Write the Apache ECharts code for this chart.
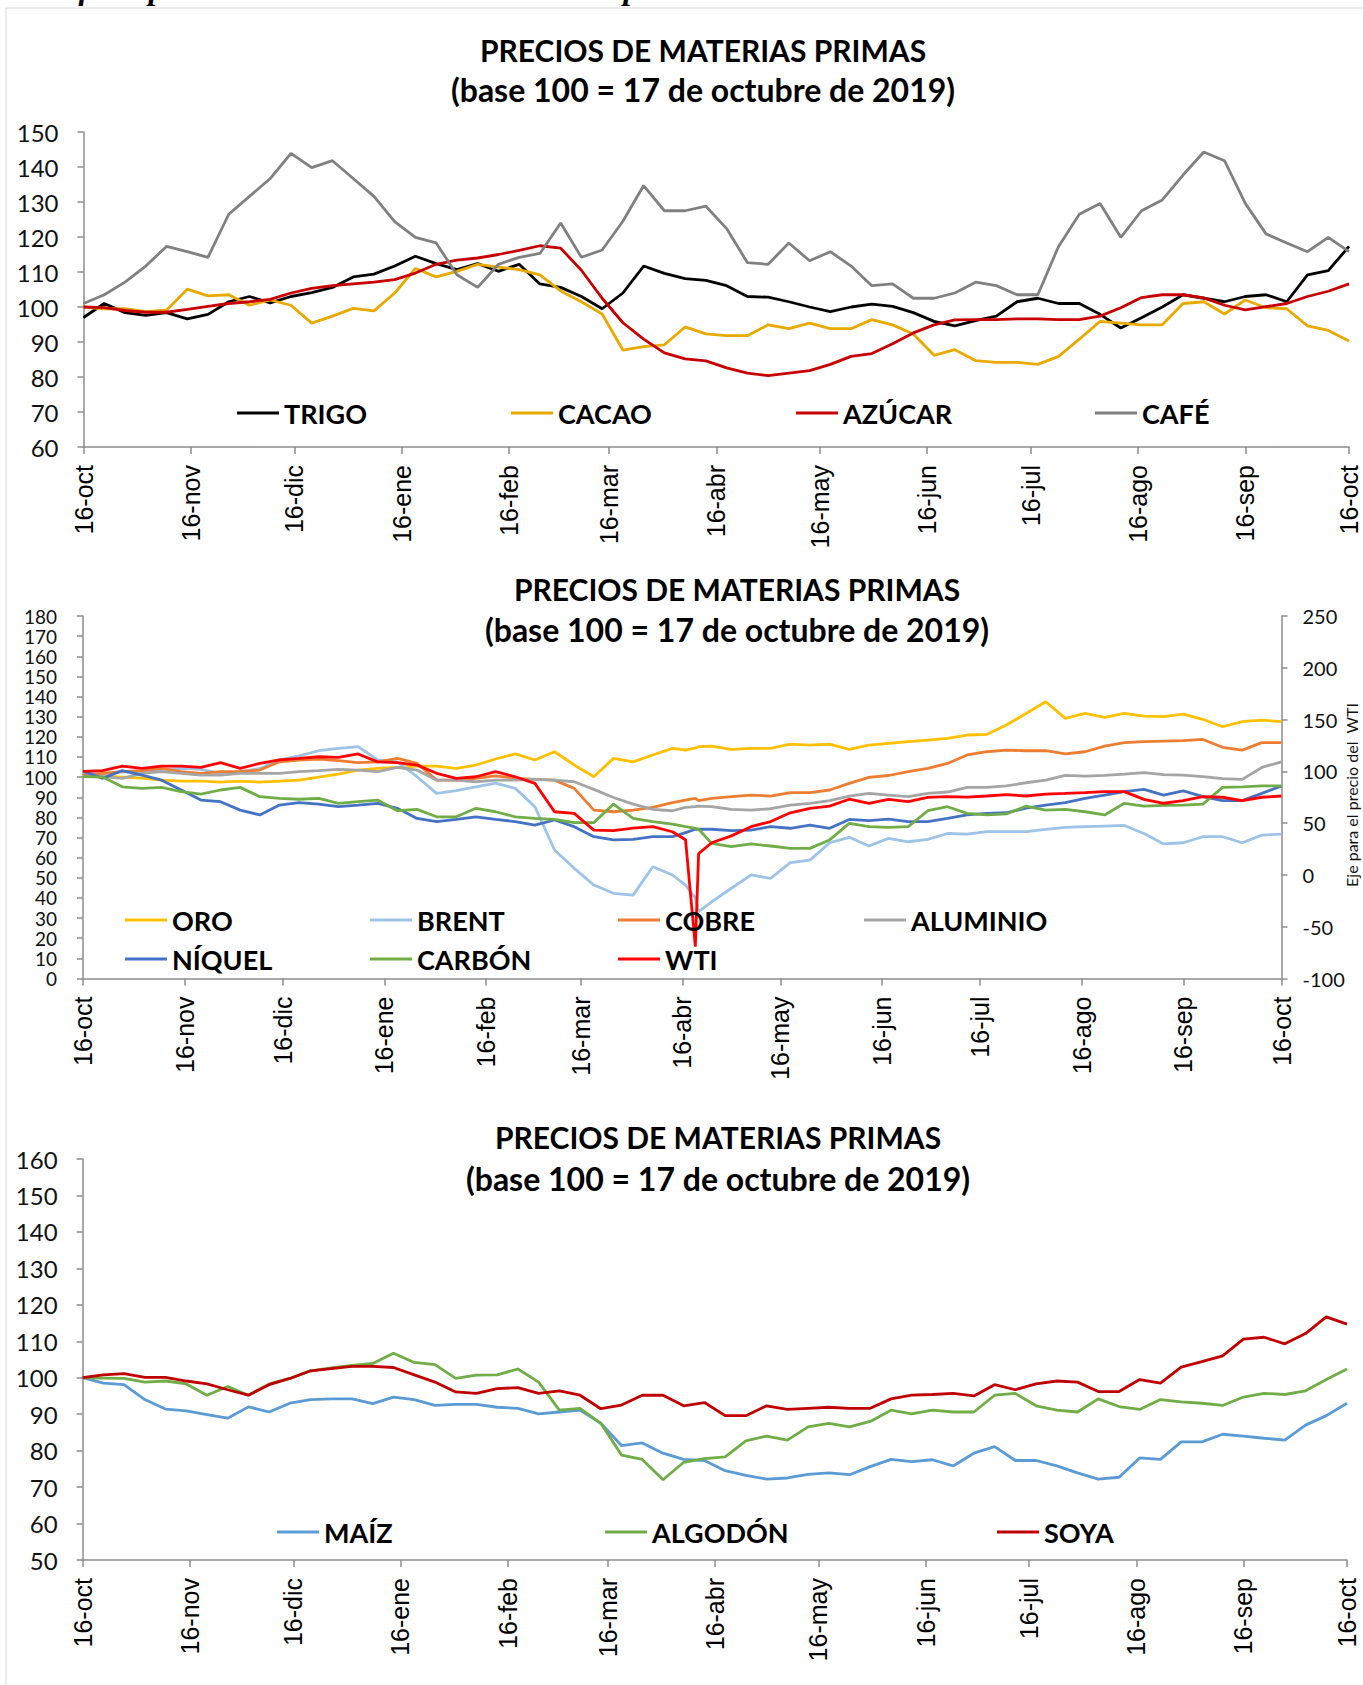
<!DOCTYPE html>
<html><head><meta charset="utf-8">
<script src="https://cdn.jsdelivr.net/npm/echarts@6/dist/echarts.min.js"></script>
<style>html,body{margin:0;padding:0;background:#fff}#c{width:1363px;height:1685px}</style>
</head><body><div id="c"></div>
<script>
// ---- axis ticks (days since 16-oct-2019) ----
const TICK_DAYS = [0,31,61,92,123,152,183,213,244,274,305,336,366];
const TICK_LABELS = ['16-oct','16-nov','16-dic','16-ene','16-feb','16-mar','16-abr','16-may','16-jun','16-jul','16-ago','16-sep','16-oct'];

// ---- sample days (panels 1 and 3) ----
const DAYS_A = [0,6,12,18,24,30,36,42,48,54,60,66,72,78,84,90,96,102,108,114,120,126,132,138,144,150,156,162,168,174,
  180,186,192,198,204,210,216,222,228,234,240,246,252,258,264,270,276,282,288,294,300,306,312,318,324,330,336,342,348,354,360,366];
// ---- sample days (panel 2) ----
const DAYS_B = [0,6,12,18,24,30,36,42,48,54,60,66,72,78,84,90,96,102,108,114,120,126,132,138,144,150,156,162,168,174,180,
  184,187,188,192,198,204,210,216,222,228,234,240,246,252,258,264,270,276,282,288,294,300,306,312,318,324,330,336,342,348,354,360,366];

// ---- panel 1 ----
const TRIGO = [97,101,98.4,97.6,98.4,96.6,97.9,101.5,103,101.2,
  103,104.1,105.6,108.6,109.4,111.7,114.5,112.4,110.7,112.4,
  110.2,112.2,106.6,105.6,103,99.5,104,111.7,109.6,108.1,
  107.6,106.1,103,102.8,101.5,100,98.7,100,100.8,100.2,
  98.4,95.9,94.6,96.1,97.4,101.5,102.5,101,101,97.9,
  94,96.9,100,103.5,102.5,101.5,103,103.5,101.5,109.2,
  110.4,117.3];
const CACAO = [100,99.5,99.5,98.7,99.1,105.1,103.2,103.5,100.5,102,
  100.5,95.4,97.4,99.6,98.9,104,111,108.6,110.2,112.2,
  111.4,110.7,109.2,104.6,101.5,98,87.7,88.7,89.2,94.3,
  92.3,91.8,91.8,94.9,93.8,95.4,93.8,93.8,96.4,94.9,
  92.3,86.2,87.8,84.7,84.2,84.2,83.6,85.9,90.8,95.9,
  95.4,94.9,94.9,101,101.5,98,102,99.8,99.5,94.6,
  93.3,90.3];
const AZUCAR = [100,99.8,99,98.5,98.5,99.3,100.2,101,101.5,102.2,
  104,105.3,106.1,106.6,107.1,107.8,109.7,112.2,113.4,114,
  115,116.2,117.5,116.8,110.5,102.5,95.5,90.8,86.9,85.2,
  84.6,82.6,81.1,80.4,81.1,81.8,83.6,85.9,86.7,89.5,
  92.6,94.9,96.3,96.4,96.4,96.6,96.6,96.4,96.4,97.4,
  99.8,102.7,103.5,103.5,102.6,100.5,99.2,100.1,101,103,
  104.5,106.6];
const CAFE = [101,103.5,107.1,111.7,117.3,115.8,114.2,126.5,131.6,136.7,
  143.9,139.8,141.8,136.7,131.6,124.4,119.9,118.3,109.2,105.6,
  112.2,114.2,115.3,124,114.2,116.3,124.5,134.7,127.5,127.5,
  128.8,122.4,112.7,112.2,118.3,113.2,115.8,111.7,106.1,106.6,
  102.5,102.5,104,107.1,106.1,103.5,103.5,117.3,126.5,129.6,
  119.9,127.5,130.6,137.7,144.3,141.8,129.6,120.9,118.3,115.8,
  119.9,115.8];

// ---- panel 2 (WTI on the right axis) ----
const ORO = [101,100.5,100,99.5,98.5,98,98,97.5,98,97.5,
  98,98.5,100,101.5,103.5,104.3,104.8,105.5,105.5,104.3,
  106,109,111.5,108.5,112.6,106,100.2,109.3,107.6,111,
  114.3,113.4,114.5,115.1,
  115.4,113.8,114.3,114.3,116.4,115.9,116.4,113.8,115.9,116.8,
  117.6,118.4,119.2,120.9,121.2,125.9,131.6,137.4,129.2,131.6,
  129.7,131.6,130.3,130,131.3,128.7,125,127.5,128.3,127.5];
const BRENT = [102,101.5,102.7,102,103.8,104.3,103.8,101.9,102.7,104.3,
  108.5,110.5,113.1,114.3,115.1,108.5,107.6,100.2,91.9,93.3,
  95.2,97,94.4,85.3,63.8,54.7,46.4,42.3,41.4,55.5,
  51.4,46.4,40,33.2,
  38.1,44.8,51.4,49.7,57.5,58.8,67.4,70.1,65.8,69.6,
  67.9,69.1,72,71.7,72.9,72.9,72.9,74.1,75,75.4,
  75.7,76,72,66.8,67.4,70.4,70.4,67.4,71.2,71.7];
const COBRE = [101,101.9,102.7,103.2,104.3,102.7,101.9,102.7,102.7,103.5,
  107.6,108.5,109,108.2,107.2,107.6,109.3,106.8,98.5,98.5,
  99.4,100.6,99.4,98.9,98.5,94.4,83.6,82.8,83.6,85,
  87.3,88.6,89.5,88.3,
  89.4,90.3,91.1,90.6,92.3,92.3,93.6,96.9,99.9,100.8,
  102.7,104.3,106.8,111,112.6,113.4,113.1,113.1,111.5,112.6,
  115.4,117.1,117.6,117.9,118.1,118.7,114.8,113.4,117.1,117.1];
const ALUMINIO = [100.2,100.2,99.4,101.9,102.7,101.9,101,101,101.9,101.9,
  101.9,102.7,103.2,103.8,103.5,102.7,104.8,103.5,98.5,98.5,
  97.7,98.5,98.5,98.9,98.5,97.7,93.9,89.9,86.6,84,
  83.3,85,85.3,85.6,
  85.3,84,83.6,84.3,86.1,87,88.3,90.6,91.9,91.1,
  90.3,91.9,92.6,94.9,94.9,95.6,97.2,98.5,100.9,100.5,
  100.9,101.5,102.2,101.2,101,100.2,99.2,98.9,104.8,107.6];
const NIQUEL = [103,99.4,103.2,101,98.5,93.6,88.6,87.8,83.6,81.2,
  86.1,87.3,86.6,85.3,86.1,87,84.5,79.5,77.9,79,
  80.3,79,77.9,76.2,78.7,75.4,70.4,68.8,69.1,70.4,
  70.4,72.4,74.1,74.1,
  74.1,73.4,73.7,75.4,74.6,76.2,74.6,79,78.4,79.1,
  77.9,77.9,79.5,81.2,82,82.3,84.6,86.1,87.3,89.4,
  91.1,92.8,93.9,91.1,93.2,90.3,88.3,88.3,91.9,95.6];
const CARBON = [100.2,100,95.2,94.4,94.9,92.8,91.6,93.6,94.9,90.3,
  89.4,89,89.4,87,87.8,88.6,83.3,84,80.3,80.3,
  84.5,82.8,80.3,79.5,79,77.4,77.4,86.6,79.5,77.9,
  76.7,75.4,74.5,74.1,
  67.1,65.5,66.8,65.8,64.6,64.6,68.8,77,75.4,75,
  75.4,83.3,85.3,82,81.2,81.7,85.6,83.6,84,82.8,
  81.2,87,85.6,86,86.1,86.6,94.9,95.2,95.6,95.6];
const WTI = [100,100.7,105.1,102.8,105.1,105.1,103.8,108.4,102.8,107.7,
  111,112.5,114.1,113.5,116.8,109.2,108.4,106.1,98.1,93.3,
  94.8,99.7,94.8,88.4,61,59.4,43.3,42.7,45.1,46.6,
  41.7,34,-69.3,20.6,
  31.1,37.7,46.6,51.5,60,64.3,66.4,73.1,69,72.9,
  70.7,74.8,75.6,75.2,76.2,77.5,76.2,78.1,78.7,79.5,
  80.4,80.4,72.9,69.2,71.7,75.6,75,71.7,75,76.2];

// ---- panel 3 ----
const MAIZ = [100,98.5,98.1,94,91.4,90.9,89.9,88.9,92,90.6,
  93,94,94.2,94.2,92.9,94.7,94,92.4,92.7,92.7,
  91.9,91.6,90.1,90.6,91.1,87.5,81.4,82.1,79.3,77.6,
  77.3,74.5,73.2,72.2,72.5,73.5,73.9,73.4,75.6,77.6,
  77,77.5,75.8,79.3,81.1,77.3,77.3,75.8,73.9,72.2,
  72.7,78,77.6,82.4,82.4,84.5,84,83.4,82.9,87,
  89.6,93];
const ALGODON = [100,99.9,99.8,98.8,99.1,98.3,95.2,97.6,95.2,98.3,
  99.8,101.9,102.7,103.4,103.9,106.7,104.2,103.6,99.8,100.7,
  100.8,102.4,98.8,91.1,91.6,87.5,78.8,77.6,72,76.8,
  77.8,78.3,82.7,84,82.9,86.5,87.5,86.5,88,91.1,
  90.1,91.1,90.6,90.6,95.2,95.7,92.3,91.1,90.6,94.2,
  92.1,91.3,94,93.4,93,92.4,94.7,95.7,95.4,96.4,
  99.5,102.4];
const SOYA = [100,100.8,101.1,100.1,100.1,99.1,98.3,96.7,95.2,98.1,
  99.8,101.9,102.5,103.1,103.1,102.8,100.8,98.8,96.1,95.7,
  97,97.3,95.7,96.4,95.2,91.5,92.5,95.2,95.2,92.3,
  93.2,89.6,89.6,92.3,91.3,91.6,91.9,91.6,91.6,94.2,
  95.2,95.4,95.7,95,98.1,96.7,98.3,99.1,98.8,96.2,
  96.2,99.5,98.5,102.9,104.4,106,110.6,111.1,109.3,112.1,
  116.7,114.7];

const TITLE_1 = 'PRECIOS DE MATERIAS PRIMAS';
const TITLE_2 = '(base 100 = 17 de octubre de 2019)';

// ---------------------------------------------------------------
const FONT = 'Lato';
const AX = '#8c8c8c';
const pairs = (days, vals) => days.map((d, i) => [d, vals[i]]);

function xAxis(g) {
  return {
    type: 'value', gridIndex: g, min: 0, max: 366,
    splitLine: { show: false },
    axisLine: { show: true, lineStyle: { color: AX, width: 1.5 } },
    axisTick: { show: true, customValues: TICK_DAYS, length: 7, lineStyle: { color: AX, width: 1.5 } },
    axisLabel: {
      customValues: TICK_DAYS, rotate: 90, margin: 18,
      fontFamily: 'Liberation Sans', fontSize: 25, color: '#000',
      formatter: v => TICK_LABELS[TICK_DAYS.indexOf(Math.round(v))]
    }
  };
}
function yAxis(g, min, max, interval, labelOpt, extra) {
  return Object.assign({
    type: 'value', gridIndex: g, min, max, interval,
    splitLine: { show: false },
    axisLine: { show: true, lineStyle: { color: AX, width: 1.5 } },
    axisTick: { show: true, length: 6, lineStyle: { color: AX, width: 1.5 } },
    axisLabel: Object.assign({ margin: 25, fontFamily: FONT, fontSize: 24, color: '#111',
      showMinLabel: true, showMaxLabel: true, hideOverlap: false }, labelOpt || {})
  }, extra || {});
}
function line(name, color, xi, yi, days, vals, w) {
  return {
    type: 'line', name, xAxisIndex: xi, yAxisIndex: yi,
    data: pairs(days, vals), symbol: 'none', showSymbol: false,
    lineStyle: { color, width: w || 2.8 }, itemStyle: { color },
    emphasis: { disabled: true }, z: 3
  };
}
function leg(name, left, cy) {
  return {
    data: [name], left, top: cy - 14, padding: 0, itemWidth: 42, itemHeight: 3,
    icon: 'rect', selectedMode: false,
    textStyle: { fontFamily: FONT, fontWeight: 'bold', fontSize: 27, lineHeight: 28, color: '#000' }
  };
}
function ttl(text, x, y, size) {
  return {
    type: 'text', x, y, z: 10,
    style: { text, fontFamily: FONT, fontWeight: 'bold', fontSize: size || 30, fill: '#000',
      textAlign: 'center', align: 'center', textVerticalAlign: 'middle', verticalAlign: 'middle' }
  };
}

const chart = echarts.init(document.getElementById('c'), null, { renderer: 'svg' });
chart.setOption({
  animation: false,
  backgroundColor: '#fff',
  grid: [
    { left: 83.5, right: 14, top: 132, height: 315 },
    { left: 83, right: 81.5, top: 616, height: 362.5 },
    { left: 82.6, right: 16, top: 1159, height: 401 }
  ],
  xAxis: [xAxis(0), xAxis(1), xAxis(2)],
  yAxis: [
    yAxis(0, 60, 150, 10),
    yAxis(1, 0, 180, 10, { fontSize: 19, lineHeight: 19, margin: 26 }),
    yAxis(1, -100, 250, 50, { margin: 21, fontSize: 20 }, { position: 'right' }),
    yAxis(2, 50, 160, 10)
  ],
  legend: [
    leg('TRIGO', 237, 413), leg('CACAO', 511, 413), leg('AZÚCAR', 796, 413), leg('CAFÉ', 1095, 413),
    leg('ORO', 125, 920), leg('BRENT', 370, 920), leg('COBRE', 618, 920), leg('ALUMINIO', 864, 920),
    leg('NÍQUEL', 125, 959), leg('CARBÓN', 370, 959), leg('WTI', 618, 959),
    leg('MAÍZ', 277, 1532), leg('ALGODÓN', 605, 1532), leg('SOYA', 997, 1532)
  ],
  series: [
    line('TRIGO', '#000000', 0, 0, DAYS_A, TRIGO),
    line('CACAO', '#E8AA00', 0, 0, DAYS_A, CACAO),
    line('AZÚCAR', '#C80000', 0, 0, DAYS_A, AZUCAR),
    line('CAFÉ', '#808080', 0, 0, DAYS_A, CAFE),

    line('ORO', '#FFC000', 1, 1, DAYS_B, ORO),
    line('BRENT', '#9DC3E6', 1, 1, DAYS_B, BRENT),
    line('COBRE', '#ED7D31', 1, 1, DAYS_B, COBRE),
    line('ALUMINIO', '#A5A5A5', 1, 1, DAYS_B, ALUMINIO),
    line('NÍQUEL', '#4472C4', 1, 1, DAYS_B, NIQUEL),
    line('CARBÓN', '#70AD47', 1, 1, DAYS_B, CARBON),
    line('WTI', '#FF0000', 1, 2, DAYS_B, WTI),

    line('MAÍZ', '#5B9BD5', 2, 3, DAYS_A, MAIZ),
    line('ALGODÓN', '#70AD47', 2, 3, DAYS_A, ALGODON),
    line('SOYA', '#C00000', 2, 3, DAYS_A, SOYA)
  ],
  graphic: [
    { type: 'rect', z: 0, shape: { x: 6, y: 8, width: 1420, height: 1720 },
      style: { fill: 'none', stroke: '#d9d9d9', lineWidth: 1 } },
    { type: 'text', x: 27, y: -12, z: 10,
      style: { text: 'Gráficos precios internacionales de materias primas',
        fontFamily: 'Liberation Serif', fontStyle: 'italic', fontWeight: 'bold', fontSize: 32, fill: '#000',
        textAlign: 'left', align: 'left', textVerticalAlign: 'middle', verticalAlign: 'middle' } },
    ttl(TITLE_1, 703, 50), ttl(TITLE_2, 703, 89, 32),
    ttl(TITLE_1, 737, 589), ttl(TITLE_2, 737, 629, 32),
    ttl(TITLE_1, 718, 1137), ttl(TITLE_2, 718, 1178, 32),
    { type: 'text', x: 1351, y: 795, rotation: Math.PI / 2, z: 10,
      style: { text: 'Eje para el precio del  WTI', fontFamily: FONT, fontSize: 16, fill: '#111',
        textAlign: 'center', align: 'center', textVerticalAlign: 'middle', verticalAlign: 'middle' } }
  ]
});
</script></body></html>
